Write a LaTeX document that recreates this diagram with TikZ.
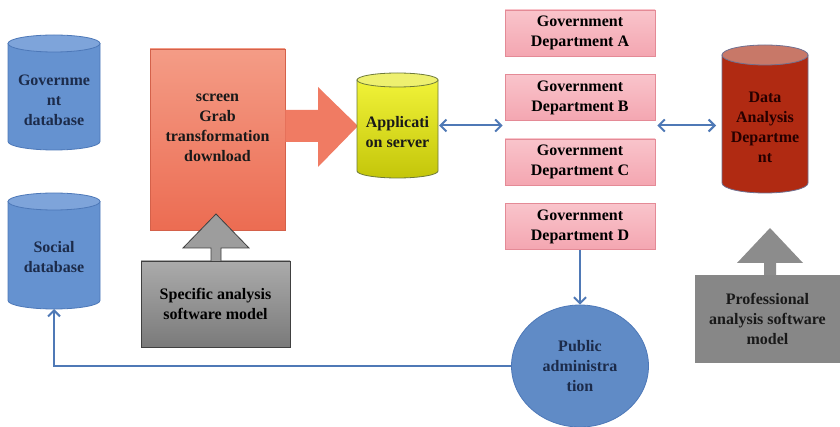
\documentclass[tikz,border=0pt]{standalone}
\usepackage{fontspec}
\setmainfont{Liberation Serif}
\usetikzlibrary{arrows.meta,shapes.geometric}

\definecolor{dbblue}{HTML}{6592D0}
\definecolor{dbbluetop}{HTML}{7EA4DA}
\definecolor{dbblueedge}{HTML}{4D78B8}
\definecolor{navytext}{HTML}{1C2B4A}
\definecolor{connblue}{HTML}{4F79B6}
\definecolor{srvtop}{HTML}{F0F238}
\definecolor{srvbot}{HTML}{C4C60A}
\definecolor{srvcap}{HTML}{EEF070}
\definecolor{srvedge}{HTML}{6E7A3A}
\definecolor{dared}{HTML}{B02A12}
\definecolor{daredtop}{HTML}{C87868}
\definecolor{daredge}{HTML}{707090}
\definecolor{depttop}{HTML}{F9C4CB}
\definecolor{deptbot}{HTML}{F4A6B1}
\definecolor{deptedge}{HTML}{E48A96}
\definecolor{grabtop}{HTML}{F49C86}
\definecolor{grabbot}{HTML}{EC6C52}
\definecolor{grabarrow}{HTML}{F07B63}
\definecolor{greytop}{HTML}{ABABAB}
\definecolor{greybot}{HTML}{7A7A7A}
\definecolor{profgrey}{HTML}{878787}
\definecolor{profarrow}{HTML}{8C8C8C}

% cylinder: name, x left, x right, y of top ellipse, y of bottom ellipse, y radius, style prefix, text y, text
\newcommand\dbcyl[9]{%
  \pgfmathsetmacro\cylcx{(#2+#3)/2}%
  \pgfmathsetmacro\cylrx{(#3-#2)/2}%
  \path[#7 body] (#2,#4) -- (#2,#5)
    arc[start angle=180,end angle=360,x radius=\cylrx,y radius=#6] -- (#3,#4) -- cycle;
  \path[#7 top] (\cylcx,#4) ellipse[x radius=\cylrx,y radius=#6];
  \node[inner sep=0,outer sep=0,minimum width={#3-#2},minimum height={#4-#5+2*#6}]
    (#1) at (\cylcx,{(#4+#5)/2}) {};
  \node[#7 text] (#1-t) at (\cylcx,#8) {#9};
}

\tikzset{
  blue body/.style={fill=dbblue,draw=dbblueedge,line width=0.8pt},
  blue top/.style={fill=dbbluetop,draw=dbblueedge,line width=0.8pt},
  blue text/.style={text=navytext,align=center},
  srv body/.style={top color=srvtop,bottom color=srvbot,draw=srvedge,line width=0.8pt},
  srv top/.style={fill=srvcap,draw=srvedge,line width=0.8pt},
  srv text/.style={text=black!90,align=center},
  red body/.style={fill=dared,draw=daredge,line width=0.8pt},
  red top/.style={fill=daredtop,draw=daredge,line width=0.8pt},
  red text/.style={text=black!85!red,align=center},
  deptbox/.style={rectangle,top color=depttop,bottom color=deptbot,draw=deptedge,
    line width=0.8pt,minimum width=150,minimum height=46,align=center,inner sep=2pt},
  conn/.style={draw=connblue,line width=2pt,
    arrows={-Straight Barb[length=6pt,width=12pt]}},
  twoway/.style={conn,arrows={Straight Barb[length=6pt,width=12pt]-Straight Barb[length=6pt,width=12pt]}},
}

\begin{document}
\begin{tikzpicture}[x=1pt,y=1pt,font=\bfseries\fontsize{16}{20}\selectfont]
\useasboundingbox (0,0) rectangle (840,426);
\fill[white] (0,0) rectangle (840,426);

% databases on the left
\dbcyl{govdb}{8}{100}{382.5}{284.5}{8.5}{blue}{326}{Governme\\nt\\database}
\dbcyl{social}{8}{100}{224.5}{125.5}{8.5}{blue}{168.5}{Social\\database}

% acquisition block and its big arrow
\node[rectangle,top color=grabtop,bottom color=grabbot,draw=grabbot!90!black,line width=0.5pt,
  minimum width=135,minimum height=181] (grab) at (217.5,286.5) {};
\node[align=center,text=black!90] (grab-t) at (217.5,298)
  {screen\\Grab\\transformation\\download};
\fill[grabarrow] (grab.east |- 0,316) -- (318,316) -- (318,339) -- (358,300)
  -- (318,259) -- (318,284) -- (grab.east |- 0,284) -- cycle;

% application server
\dbcyl{app}{357}{438}{346}{255}{7}{srv}{294}{Applicati\\on server}

% government departments
\node[deptbox] (deptA) at (580,393)   {Government\\Department A};
\node[deptbox] (deptB) at (580,328.5) {Government\\Department B};
\node[deptbox] (deptC) at (580,264)   {Government\\Department C};
\node[deptbox] (deptD) at (580,199.5) {Government\\Department D};

% data analysis department
\dbcyl{data}{722}{808}{371}{243}{10}{red}{299}{Data\\Analysis\\Departme\\nt}

% specific analysis software model
\node[rectangle,top color=greytop,bottom color=greybot,draw=black!75,line width=0.8pt,
  minimum width=149,minimum height=86,align=center] (spec) at (215.5,122)
  {Specific analysis\\software model};
\filldraw[fill=greytop!92!black,draw=black!75,line width=0.8pt]
  (211,165) -- (211,178) -- (183,178) -- (216,212) -- (249,178) -- (221,178) -- (221,165);

% professional analysis software model
\node[rectangle,fill=profgrey,minimum width=145,minimum height=88,align=center,
  text=black!90] (prof) at (767.5,107)
  {Professional\\analysis software\\model};
\fill[profarrow] (764,151) -- (764,163) -- (737,163) -- (770,198) -- (803,163)
  -- (776,163) -- (776,151) -- cycle;

% public administration
\node[ellipse,fill=dbblue!95!black,draw=dbblueedge,line width=0.8pt,
  minimum width=137,minimum height=122,align=center,text=navytext,inner sep=0]
  (pub) at (580,60) {Public\\administra\\tion};

% connectors
\draw[twoway,shorten <=1pt,shorten >=2pt] (app.east) -- (app.east -| deptB.west);
\draw[twoway,shorten <=2pt,shorten >=6pt] (deptB.east |- app.east) -- (data.west |- app.east);
\draw[conn] (deptD.south) -- (pub.north);
\draw[conn] (pub.west) -| (social.south);
\end{tikzpicture}
\end{document}
